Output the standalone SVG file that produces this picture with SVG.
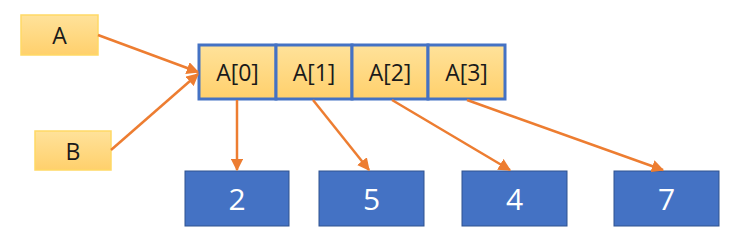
<svg xmlns="http://www.w3.org/2000/svg" width="740" height="247" viewBox="0 0 740 247">
<defs>
<linearGradient id="yg" x1="0" y1="0" x2="0" y2="1">
<stop offset="0" stop-color="#ffe29a"/>
<stop offset="1" stop-color="#ffd06c"/>
</linearGradient>
<marker id="ah" viewBox="0 0 10 10" refX="9" refY="5" markerWidth="5" markerHeight="5" orient="auto" markerUnits="strokeWidth">
<path d="M0,0 L10,5 L0,10 z" fill="#ed7d31"/>
</marker>
<style>
.lbl{fill:url(#yg);stroke:#ffd966;stroke-width:1.5}
.cell{fill:url(#yg);stroke:#4472c4;stroke-width:3}
.val{fill:#4472c4;stroke:#2f528f;stroke-width:1}
.t{font-family:"Open Sans","Noto Sans",sans-serif;font-size:23px;fill:#1a1a1a;text-anchor:middle;dominant-baseline:central}
.w{font-family:"Open Sans","Noto Sans",sans-serif;font-size:30px;fill:#ffffff;text-anchor:middle;dominant-baseline:central}
.c{stroke:#ed7d31;stroke-width:2.5;fill:none;marker-end:url(#ah)}
</style>
</defs>
<g id="nodeA"><rect class="lbl" x="21" y="15" width="77" height="40"/><text class="t" x="59.5" y="35">A</text></g>
<g id="nodeB"><rect class="lbl" x="35" y="131" width="76" height="39"/><text class="t" x="73" y="151">B</text></g>
<g id="array">
<g id="A0"><rect class="cell" x="199" y="45" width="77" height="54"/><text class="t" x="237.5" y="72">A[0]</text></g>
<g id="A1"><rect class="cell" x="276" y="45" width="76" height="54"/><text class="t" x="314" y="72">A[1]</text></g>
<g id="A2"><rect class="cell" x="352" y="45" width="76" height="54"/><text class="t" x="390" y="72">A[2]</text></g>
<g id="A3"><rect class="cell" x="428" y="45" width="77" height="54"/><text class="t" x="466.5" y="72">A[3]</text></g>
</g>
<g id="v2"><rect class="val" x="185" y="171" width="104" height="55"/><text class="w" x="237" y="198">2</text></g>
<g id="v5"><rect class="val" x="319" y="171" width="105" height="55"/><text class="w" x="371.5" y="198">5</text></g>
<g id="v4"><rect class="val" x="462" y="171" width="105" height="55"/><text class="w" x="514.5" y="198">4</text></g>
<g id="v7"><rect class="val" x="614" y="171" width="105" height="55"/><text class="w" x="666.5" y="198">7</text></g>
<g id="connectors">
<line class="c" x1="98" y1="35" x2="198" y2="72"/>
<line class="c" x1="111" y1="150" x2="198" y2="74"/>
<line class="c" x1="237" y1="100" x2="237" y2="170"/>
<line class="c" x1="313" y1="100" x2="369" y2="170"/>
<line class="c" x1="392" y1="100" x2="510" y2="170"/>
<line class="c" x1="467" y1="100" x2="663" y2="170"/>
</g>
</svg>
